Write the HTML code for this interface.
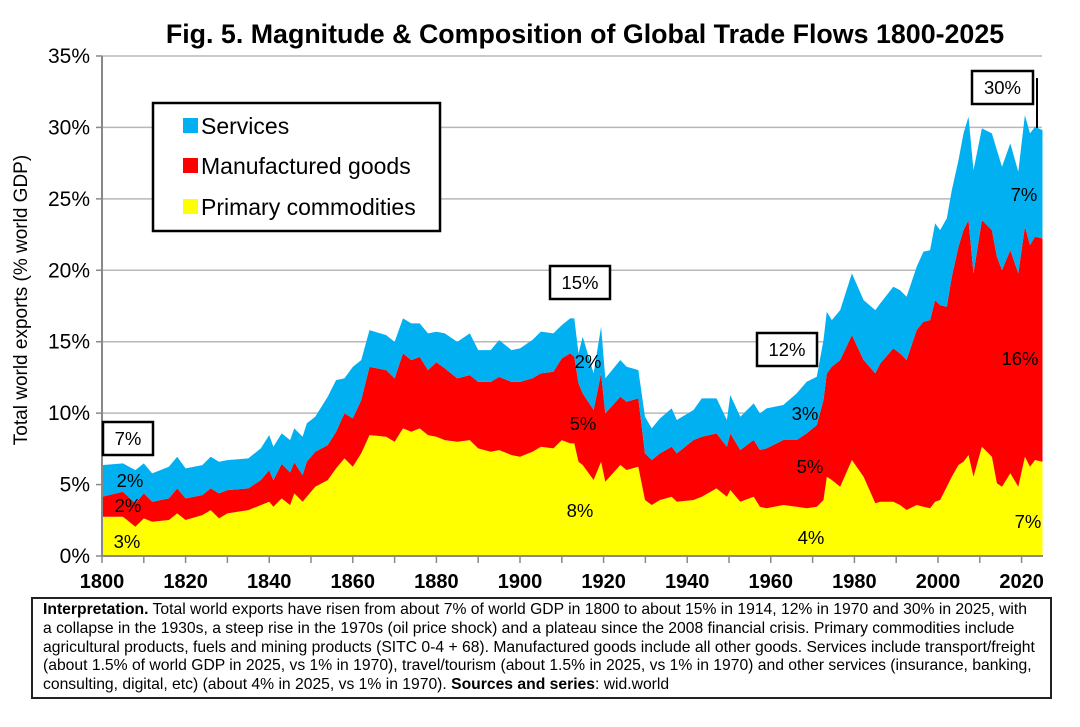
<!DOCTYPE html>
<html><head><meta charset="utf-8"><style>
body{margin:0;width:1080px;height:727px;background:#fff;font-family:"Liberation Sans",Arial,sans-serif;overflow:hidden;position:relative}
#note{position:absolute;left:31px;top:597px;width:1007px;height:96px;border:2px solid #222;padding:2px 0 0 10px;font-size:15.7px;line-height:18.8px;color:#000;white-space:nowrap}
</style></head><body>
<svg id="chart" width="1080" height="600" style="position:absolute;left:0;top:0" xmlns="http://www.w3.org/2000/svg"></svg>
<div id="note"><b>Interpretation.</b> Total world exports have risen from about 7% of world GDP in 1800 to about 15% in 1914, 12% in 1970 and 30% in 2025, with<br>a collapse in the 1930s, a steep rise in the 1970s (oil price shock) and a plateau since the 2008 financial crisis. Primary commodities include<br>agricultural products, fuels and mining products (SITC 0-4 + 68). Manufactured goods include all other goods. Services include transport/freight<br>(about 1.5% of world GDP in 2025, vs 1% in 1970), travel/tourism (about 1.5% in 2025, vs 1% in 1970) and other services (insurance, banking,<br>consulting, digital, etc) (about 4% in 2025, vs 1% in 1970). <b>Sources and series</b>: wid.world</div>
<script>
const years=[1800,1805,1808,1810,1812,1816,1818,1820,1824,1826,1828,1830,1835,1838,1840,1841,1843,1845,1846,1848,1849,1851,1854,1856,1858,1860,1862,1864,1868,1870,1872,1874,1876,1878,1880,1882,1885,1888,1890,1893,1895,1898,1900,1903,1905,1908,1910,1912,1913,1914,1915,1917.6,1919.4,1920.4,1924,1925.5,1928.3,1929.9,1931.5,1933.5,1936.3,1937.5,1941.5,1943.5,1947,1949.5,1950.3,1952.7,1955.9,1957.4,1959,1963,1966.2,1968.6,1971,1972.6,1973.4,1974.6,1976.6,1979.4,1982.2,1985,1986.2,1989.3,1990.9,1992.5,1994.9,1996.5,1998.1,1999.3,2000.5,2002.1,2003.3,2004.9,2006.1,2007.3,2008.5,2010.5,2012.9,2014.1,2015.3,2017.3,2019.2,2020.8,2022,2023.2,2025];
const primary=[2.75,2.75,2.05,2.63,2.40,2.52,2.98,2.52,2.86,3.21,2.63,2.98,3.21,3.56,3.80,3.45,4.03,3.56,4.38,3.80,4.15,4.85,5.31,6.13,6.83,6.25,7.18,8.46,8.35,8.00,8.93,8.70,8.93,8.46,8.35,8.11,8.00,8.11,7.53,7.30,7.41,7.06,6.95,7.30,7.65,7.53,8.11,7.88,7.88,6.60,6.37,5.32,6.60,5.20,6.37,6.02,6.25,3.92,3.57,3.92,4.15,3.80,3.92,4.15,4.73,4.15,4.62,3.80,4.15,3.45,3.34,3.57,3.45,3.34,3.45,3.92,5.55,5.32,4.85,6.72,5.55,3.69,3.80,3.80,3.57,3.22,3.57,3.45,3.34,3.80,3.92,4.85,5.55,6.37,6.60,7.07,5.55,7.65,6.95,5.09,4.85,5.79,4.85,6.95,6.25,6.72,6.60];
const manufactured=[1.40,1.75,1.63,1.75,1.40,1.51,1.75,1.51,1.40,1.52,1.75,1.63,1.52,1.75,2.21,1.86,2.42,2.29,2.17,1.86,2.45,2.45,2.45,2.57,3.15,3.38,3.73,4.78,4.66,4.43,5.25,5.01,5.01,4.55,5.21,5.02,4.43,4.55,4.66,4.89,5.13,5.13,5.24,5.14,5.13,5.37,5.72,6.30,6.07,5.48,5.01,4.90,6.18,4.78,4.78,4.78,4.78,3.26,3.15,3.26,3.50,3.38,4.20,4.20,3.85,3.50,3.96,3.62,3.97,3.97,4.19,4.55,4.67,5.24,5.72,7.00,7.23,7.93,8.87,8.74,8.17,9.09,9.68,10.73,10.61,10.50,12.25,12.95,13.17,14.11,13.64,12.60,14.00,15.28,16.21,16.44,14.23,15.86,15.86,15.86,15.16,15.62,14.93,16.10,15.51,15.63,15.63];
const services=[2.21,1.98,2.33,2.10,1.98,2.22,2.22,2.10,2.10,2.22,2.22,2.10,2.10,2.22,2.45,2.34,2.13,2.26,2.38,2.69,2.68,2.45,3.39,3.61,2.45,3.61,2.80,2.57,2.45,2.56,2.45,2.57,2.34,2.57,2.14,2.45,2.56,2.92,2.22,2.22,2.57,2.22,2.34,2.69,2.93,2.68,2.33,2.45,2.68,2.10,3.97,2.56,3.27,2.45,2.57,2.45,1.99,2.57,2.21,2.45,2.68,2.34,2.10,2.68,2.45,1.87,2.69,2.33,2.56,2.56,2.80,2.45,3.26,3.62,3.38,4.20,4.32,3.26,3.49,4.32,4.19,4.43,4.20,4.32,4.43,4.43,4.43,4.90,4.90,5.37,5.25,6.18,6.06,6.06,6.77,7.23,7.23,6.42,6.77,7.46,7.23,7.47,7.11,7.81,7.82,7.69,7.58];
const yTicks=[0,5,10,15,20,25,30,35];
const xLabels=[1800,1820,1840,1860,1880,1900,1920,1940,1960,1980,2000,2020];
const NS="http://www.w3.org/2000/svg";
const svg=document.getElementById('chart');
const X0=102,PX=4.18,Y0=556,PY=14.286;
const xs=y=>X0+(y-1800)*PX, ys=v=>Y0-v*PY;
function mk(t,a,p){const e=document.createElementNS(NS,t);for(const k in a)e.setAttribute(k,a[k]);(p||svg).appendChild(e);return e;}
function txt(s,a){const e=mk('text',a);e.textContent=s;return e;}
yTicks.forEach(v=>{
 const g=mk('line',{x1:X0,x2:1042,y1:ys(v),y2:ys(v),stroke:'#b8b8b8','stroke-width':1.5});
 
 
 const t=txt(v+'%',{x:90,y:ys(v)+7,'text-anchor':'end','font-size':21,fill:'#000'});
 
 
});
const lo=years.map(()=>0);
const cols=['#FFFF00','#FF0000','#00B0F0'],names=['primary-area','manufactured-area','services-area'];
[primary,manufactured,services].forEach((s,k)=>{
 const hi=s.map((v,i)=>lo[i]+v);
 let d='M'+years.map((y,i)=>xs(y).toFixed(1)+','+ys(hi[i]).toFixed(1)).join('L');
 for(let i=years.length-1;i>=0;i--)d+='L'+xs(years[i]).toFixed(1)+','+ys(lo[i]).toFixed(1);
 const p=mk('path',{d:d+'Z',fill:cols[k]});
 
 
 hi.forEach((v,i)=>lo[i]=v);
});
mk('line',{x1:X0,x2:X0,y1:56,y2:557,stroke:'#888','stroke-width':2});
mk('line',{x1:X0,x2:1043,y1:Y0,y2:Y0,stroke:'#888','stroke-width':2});
yTicks.forEach(v=>mk('line',{x1:X0-6,x2:X0,y1:ys(v),y2:ys(v),stroke:'#888','stroke-width':1.5}));
for(let y=1800;y<=2020;y+=10)mk('line',{x1:xs(y),x2:xs(y),y1:Y0,y2:Y0+7,stroke:'#888','stroke-width':1.5});
xLabels.forEach(y=>{
 const t=txt(y,{x:xs(y),y:588,'text-anchor':'middle','font-size':20,'font-weight':'bold',fill:'#000'});
 
 
});
const tt=txt('Fig. 5. Magnitude & Composition of Global Trade Flows 1800-2025',{x:585,y:43,'text-anchor':'middle','font-size':26.8,'font-weight':'bold'});


const yt=txt('Total world exports (% world GDP)',{x:0,y:0,'text-anchor':'middle','font-size':19,transform:'translate(27,300) rotate(-90)'});


const lg=mk('g',{});


mk('rect',{x:153,y:103,width:287,height:128,fill:'#fff',stroke:'#000','stroke-width':2.5},lg);
[['Services','#00B0F0',126],['Manufactured goods','#FF0000',166],['Primary commodities','#FFFF00',207]].forEach(([n,c,y])=>{
 mk('rect',{x:183,y:y-8,width:15,height:15,fill:c},lg);
 const t=txt(n,{x:201,y:y+8,'font-size':23});lg.appendChild(t);
 
 
});
[['7%',103,422,50,33],['15%',550,266,60,33],['12%',757,333,60,33],['30%',972,71,61,33]].forEach(([s,x,y,w,h])=>{
 mk('rect',{x:x,y:y,width:w,height:h,fill:'#fff',stroke:'#000','stroke-width':2.5});
 const t=txt(s,{x:x+w/2,y:y+23,'text-anchor':'middle','font-size':18.5});
 
 
});
mk('line',{x1:1037,x2:1037,y1:78,y2:128,stroke:'#000','stroke-width':2});
[['2%',130,487],['2%',128,512],['3%',127,548],['2%',588,368],['5%',583,430],['8%',580,517],['3%',805,420],['5%',810,473],['4%',811,544],['7%',1024,201],['16%',1020,365],['7%',1028,528]].forEach(([s,x,y])=>{
 const t=txt(s,{x:x,y:y,'text-anchor':'middle','font-size':18.5});
 
 
});
</script>
</body></html>
